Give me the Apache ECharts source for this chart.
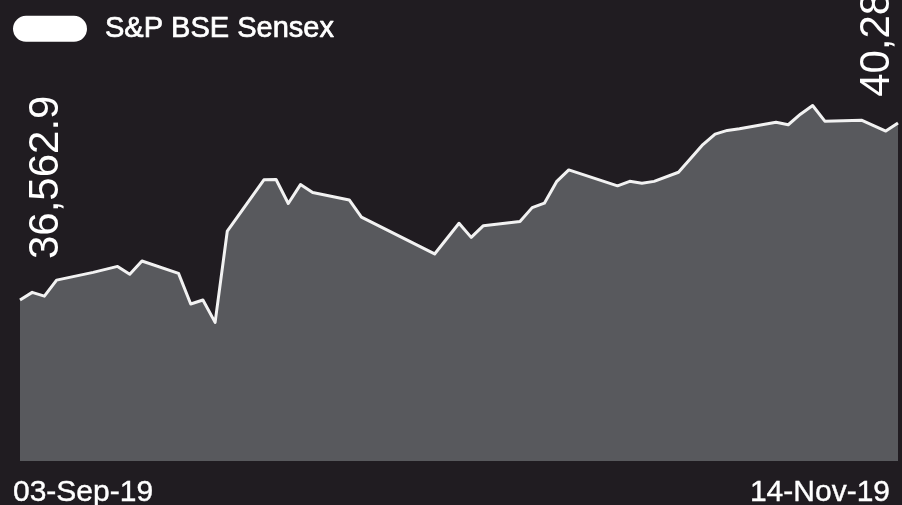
<!DOCTYPE html>
<html>
<head>
<meta charset="utf-8">
<title>S&amp;P BSE Sensex</title>
<script src="https://cdn.jsdelivr.net/npm/echarts@6/dist/echarts.min.js"></script>
<style>
  html, body { margin: 0; padding: 0; background: #201c21; }
  #chart { width: 902px; height: 505px; }
</style>
</head>
<body>
<div id="chart"></div>
<script>
// Daily closing values of the S&P BSE Sensex
const seriesName = 'S&P BSE Sensex';
const dates = [
  '2019-09-03', '2019-09-04', '2019-09-05', '2019-09-06', '2019-09-09',
  '2019-09-11', '2019-09-12', '2019-09-13', '2019-09-16', '2019-09-17',
  '2019-09-18', '2019-09-19', '2019-09-20', '2019-09-23', '2019-09-24',
  '2019-09-25', '2019-09-26', '2019-09-27', '2019-09-30', '2019-10-01',
  '2019-10-07', '2019-10-09', '2019-10-10', '2019-10-11', '2019-10-14',
  '2019-10-15', '2019-10-16', '2019-10-17', '2019-10-18', '2019-10-22',
  '2019-10-23', '2019-10-24', '2019-10-25', '2019-10-27', '2019-10-29',
  '2019-10-30', '2019-10-31', '2019-11-01', '2019-11-04', '2019-11-05',
  '2019-11-06', '2019-11-07', '2019-11-08', '2019-11-11', '2019-11-13',
  '2019-11-14'
];
const closes = [
  36562.9, 36724.7, 36644.4, 36981.8, 37145.5,
  37270.8, 37104.3, 37385.0, 37123.3, 36481.1,
  36563.9, 36093.5, 38014.6, 39090.0, 39097.1,
  38593.5, 38989.7, 38822.6, 38667.3, 38305.4,
  37532.0, 38178.0, 37880.4, 38127.1, 38214.5,
  38506.1, 38599.0, 39052.1, 39298.4, 38963.8,
  39058.8, 39020.4, 39058.1, 39250.2, 39831.8,
  40051.9, 40129.1, 40165.0, 40302.0, 40248.2,
  40469.7, 40653.7, 40323.6, 40345.1, 40116.1,
  40286.5
];
const tickLabels = ['03-Sep-19', '14-Nov-19'];

const fmt = v => v.toLocaleString('en-US', { minimumFractionDigits: 1, maximumFractionDigits: 1 });

// Rotated value labels on the first and last points
const endLabel = (offset) => ({
  show: true,
  position: 'top',
  distance: 0,
  rotate: 90,
  align: 'left',
  verticalAlign: 'middle',
  offset: offset,
  color: '#ffffff',
  fontFamily: 'Liberation Sans, Arial, sans-serif',
  fontSize: 42,
  formatter: p => fmt(p.value[1])
});

const last = dates.length - 1;
const points = dates.map((d, i) => {
  const item = { value: [d, closes[i]] };
  if (i === 0) item.label = endLabel([41, 26]);
  if (i === last) item.label = endLabel([26, -21]);
  return item;
});

const pill = 'path://M13,0 H61 A13,13 0 0 1 74,13 A13,13 0 0 1 61,26 H13 A13,13 0 0 1 0,13 A13,13 0 0 1 13,0 Z';

const chart = echarts.init(document.getElementById('chart'), null, { renderer: 'canvas' });
chart.setOption({
  backgroundColor: '#201c21',
  animation: false,
  legend: {
    left: 13,
    top: 14,
    padding: 0,
    icon: pill,
    itemWidth: 74,
    itemHeight: 26,
    itemStyle: { color: '#ffffff', borderWidth: 0 },
    textStyle: {
      color: '#ffffff',
      fontSize: 29,
      fontFamily: 'Liberation Sans, Arial, sans-serif',
      textBorderColor: '#ffffff',
      textBorderWidth: 0.7,
      padding: [8, 0, 0, 13]
    },
    data: [seriesName]
  },
  grid: [
    { left: 20, right: 4, top: 20, bottom: 44, outerBoundsMode: 'none' },
    { left: 13, right: 12, top: 20, bottom: 44, outerBoundsMode: 'none' }
  ],
  xAxis: [
    {
      type: 'time',
      gridIndex: 0,
      min: 'dataMin',
      max: 'dataMax',
      show: false
    },
    {
      type: 'category',
      gridIndex: 1,
      data: tickLabels,
      boundaryGap: false,
      axisLine: { show: false },
      axisTick: { show: false },
      splitLine: { show: false },
      axisLabel: {
        interval: 0,
        margin: 17,
        color: '#ffffff',
        fontSize: 30,
        fontFamily: 'Liberation Sans, Arial, sans-serif',
        textBorderColor: '#ffffff',
        textBorderWidth: 0.4,
        alignMinLabel: 'left',
        alignMaxLabel: 'right'
      }
    }
  ],
  yAxis: [
    { type: 'value', gridIndex: 0, min: 33180, max: 42450, show: false },
    { type: 'value', gridIndex: 1, show: false }
  ],
  series: [
    {
      name: seriesName,
      type: 'line',
      xAxisIndex: 0,
      yAxisIndex: 0,
      data: points,
      showSymbol: true,
      symbol: 'circle',
      symbolSize: 0.1,
      itemStyle: { color: '#ffffff' },
      lineStyle: { color: '#f2f2f2', width: 3, join: 'round' },
      areaStyle: { color: '#58595d', opacity: 1 },
      label: { show: false },
      z: 2
    }
  ]
});
</script>
</body>
</html>
